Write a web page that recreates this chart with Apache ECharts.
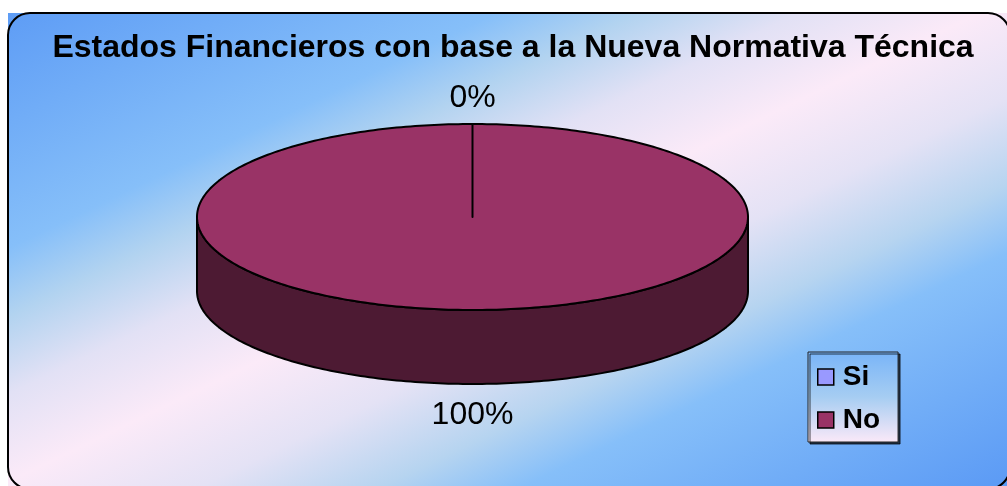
<!DOCTYPE html>
<html>
<head>
<meta charset="utf-8">
<script src="https://cdn.jsdelivr.net/npm/echarts@6/dist/echarts.min.js"></script>
<style>
html,body{margin:0;padding:0;background:#fff;}
#chart{width:1007px;height:486px;}
</style>
</head>
<body>
<div id="chart"></div>
<script>
// datos del grafico
var titulo = 'Estados Financieros con base a la Nueva Normativa Técnica';
var categorias = ['Si', 'No'];
var valores = [0, 100];
var colores = ['#9999ff', '#993366'];
var coloresLado = ['#4d4d80', '#4d1a33'];

var total = valores.reduce(function(a, b){ return a + b; }, 0);

// geometria del pastel 3d
var CX = 472.5, CY = 217, RX = 275.5, RY = 93, PROF = 74;

function punto(t, dy){
    return [CX + RX * Math.cos(t), CY + RY * Math.sin(t) + (dy || 0)];
}
function arco(a, b, dy){
    var pts = [];
    var n = Math.max(2, Math.ceil(Math.abs(b - a) / (Math.PI / 180)));
    for (var i = 0; i <= n; i++) {
        pts.push(punto(a + (b - a) * i / n, dy));
    }
    return pts;
}
// angulos de cada rebanada (empieza a las 12, sentido horario)
function rebanada(idx){
    var ini = 0;
    for (var i = 0; i < idx; i++) ini += valores[i];
    var a0 = -Math.PI / 2 + 2 * Math.PI * ini / total;
    var a1 = a0 + 2 * Math.PI * valores[idx] / total;
    return [a0, a1];
}

function renderItem(params, api){
    var idx = params.seriesIndex;
    var ang = rebanada(idx);
    var a0 = ang[0], a1 = ang[1];
    var hijos = [];
    if (a1 > a0) {
        //lado visible
        [[0, Math.PI], [2 * Math.PI, 3 * Math.PI]].forEach(function(r){
            var s = Math.max(a0, r[0]), e = Math.min(a1, r[1]);
            if (e > s) {
                var pts = arco(s, e, 0).concat(arco(e, s, PROF));
                hijos.push({
                    type : 'polygon',
                    shape : { points : pts },
                    style : { fill : coloresLado[idx], stroke : '#000', lineWidth : 2, lineJoin : 'round' }
                });
            }
        });
        //tapa
        var tapa = [[CX, CY]].concat(arco(a0, a1, 0));
        hijos.push({
            type : 'polygon',
            shape : { points : tapa },
            style : { fill : colores[idx], stroke : '#000', lineWidth : 2, lineJoin : 'round' }
        });
    }
    //etiqueta
    var am = (a0 + a1) / 2;
    var s = Math.sin(am);
    var off = s > 0 ? 31 : 26;
    hijos.push({
        type : 'text',
        x : CX + (RX + off) * Math.cos(am),
        y : CY + (RY + off) * s + (s > 0 ? PROF : 0),
        z2 : 10,
        style : {
            text : Math.round(valores[idx] / total * 100) + '%',
            font : '32px "Liberation Sans", Arial, sans-serif',
            fill : '#000',
            align : 'center',
            verticalAlign : 'middle'
        }
    });
    return { type : 'group', children : hijos };
}

var fondo = new echarts.graphic.LinearGradient(313, -152, 694, 638, [
    { offset : 0, color : '#5b9af5' },
    { offset : 0.26, color : '#86bff9' },
    { offset : 0.33, color : '#b2d3f0' },
    { offset : 0.41, color : '#e2e1f5' },
    { offset : 0.5, color : '#fbeaf8' },
    { offset : 0.6, color : '#e4e2f5' },
    { offset : 0.69, color : '#b6d4f0' },
    { offset : 0.76, color : '#86bff9' },
    { offset : 1, color : '#5b9af5' }
], true);

var myChart = echarts.init(document.getElementById('chart'), null, { renderer : 'canvas' });
var option = {
    backgroundColor : '#fff',
    animation : false,
    title : {
        text : titulo,
        left : 513,
        top : 32,
        textAlign : 'center',
        padding : 0,
        textStyle : {
            fontFamily : '"Liberation Sans", Arial, sans-serif',
            fontSize : 32,
            fontWeight : 'bold',
            color : '#000'
        }
    },
    legend : {
        data : categorias,
        orient : 'vertical',
        left : 808,
        top : 352,
        icon : 'rect',
        itemWidth : 16,
        itemHeight : 16,
        itemGap : 15,
        selectedMode : false,
        padding : [11, 18, 8, 9],
        backgroundColor : new echarts.graphic.LinearGradient(0, 0, 0, 1, [
            { offset : 0, color : '#78b4f8' },
            { offset : 0.5, color : '#a6cdf2' },
            { offset : 1, color : '#fbe9f8' }
        ]),
        borderColor : '#222',
        borderWidth : 1,
        shadowColor : 'rgba(0,0,0,0.7)',
        shadowBlur : 0.5,
        shadowOffsetX : 2,
        shadowOffsetY : 2,
        itemStyle : { borderColor : '#000', borderWidth : 1.5 },
        textStyle : {
            fontFamily : '"Liberation Sans", Arial, sans-serif',
            fontSize : 28,
            fontWeight : 'bold',
            lineHeight : 28,
            color : '#000',
            padding : [0, 0, 0, 4]
        }
    },
    graphic : [
        {
            type : 'rect',
            z : -10,
            silent : true,
            shape : { x : 8, y : 13, width : 1010, height : 480 },
            style : { fill : fondo }
        },
        {
            type : 'rect',
            z : -9,
            silent : true,
            shape : { x : 8, y : 13, width : 1002, height : 476, r : 22 },
            style : { fill : 'none', stroke : '#000', lineWidth : 2 }
        }
    ],
    series : categorias.map(function(nombre, i){
        return {
            name : nombre,
            type : 'custom',
            coordinateSystem : 'none',
            renderItem : renderItem,
            itemStyle : { color : colores[i] },
            data : [valores[i]]
        };
    })
};
myChart.setOption(option);
</script>
</body>
</html>
